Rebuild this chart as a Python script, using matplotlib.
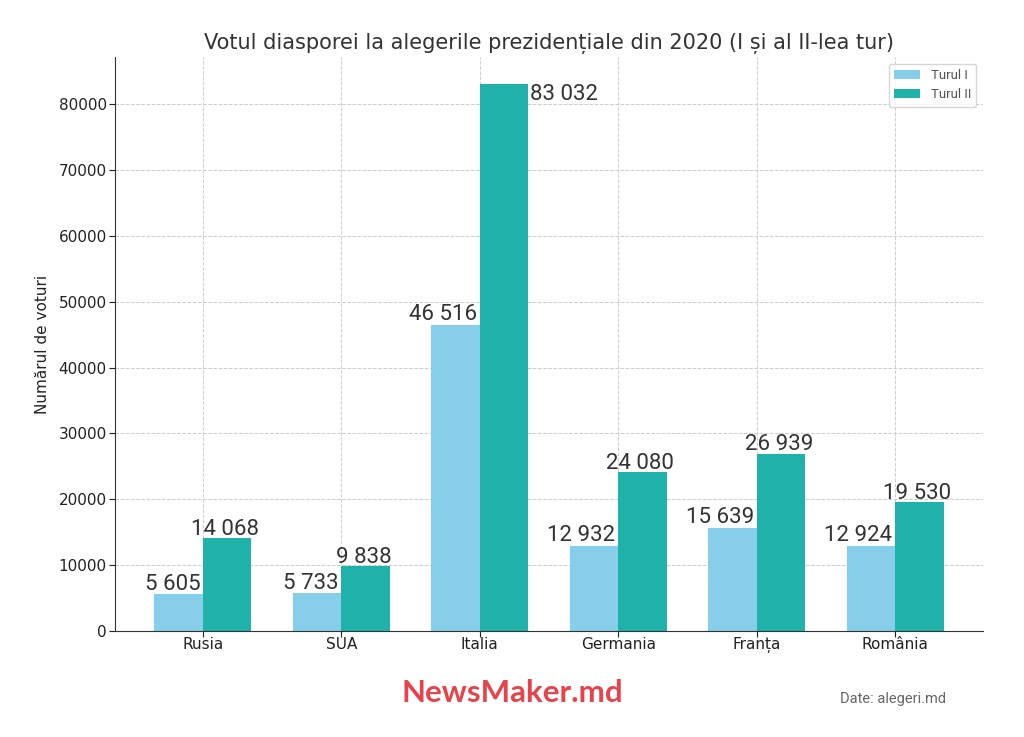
import matplotlib.pyplot as plt
import numpy as np

# date
tari = ["Rusia", "SUA", "Italia", "Germania", "Franța", "România"]
turul_1 = [5605, 5733, 46516, 12932, 15639, 12924]
turul_2 = [14068, 9838, 83032, 24080, 26939, 19530]


def fmt(v):
    return "{:,}".format(v).replace(",", " ")


fig = plt.figure(figsize=(10.24, 7.37), dpi=100)
ax = fig.add_axes([0.1123, 0.1438, 0.8477, 0.7789])

x = np.arange(len(tari))
w = 0.35
b1 = ax.bar(x - w / 2, turul_1, w, color="#87CEEB", label="Turul I", zorder=2)
b2 = ax.bar(x + w / 2, turul_2, w, color="#20B2AA", label="Turul II", zorder=2)

lbl = dict(fontsize=16, family="Roboto", color="#333333")
# etichete valori
for b, v in zip(b1, turul_1):
    ax.text(b.get_x() + b.get_width() - 0.02, v + 700, fmt(v),
            ha="right", va="baseline", **lbl)
vmax = max(turul_2)
for b, v in zip(b2, turul_2):
    if v == vmax:
        ax.text(b.get_x() + b.get_width() + 0.01, v, fmt(v),
                ha="left", va="top", **lbl)
    else:
        ax.text(b.get_x() + b.get_width() / 2 - 0.015, v + 500, fmt(v),
                ha="center", va="baseline", **lbl)

ax.set_xticks(x)
ax.set_xticklabels(tari)
ax.tick_params(labelsize=11, colors="#222222", length=4, pad=2)
ax.tick_params(axis="x", pad=0)
ax.set_ylabel("Numărul de voturi", fontsize=11, color="#222222", labelpad=6)
ax.set_title("Votul diasporei la alegerile prezidențiale din 2020 (I și al II-lea tur)",
             fontsize=15, color="#333333")
ax.grid(True, linestyle="--", color="#cccccc", linewidth=0.7, zorder=0)
ax.set_axisbelow(True)
for s in ("top", "right"):
    ax.spines[s].set_visible(False)
for s in ("left", "bottom"):
    ax.spines[s].set_color("#333333")

leg = ax.legend(loc="upper right", prop={"family": "Roboto", "size": 9.5})
for t in leg.get_texts():
    t.set_color("#555555")

fig.text(0.5, 0.06, "NewsMaker.md", ha="center", va="center", fontsize=22.5,
         family="Lato", fontweight="bold", color="#E8434B")
fig.text(0.872, 0.051, "Date: alegeri.md", ha="center", va="center", fontsize=10.5,
         family="Roboto", color="#666666")

fig.savefig("out.png", dpi=100)
